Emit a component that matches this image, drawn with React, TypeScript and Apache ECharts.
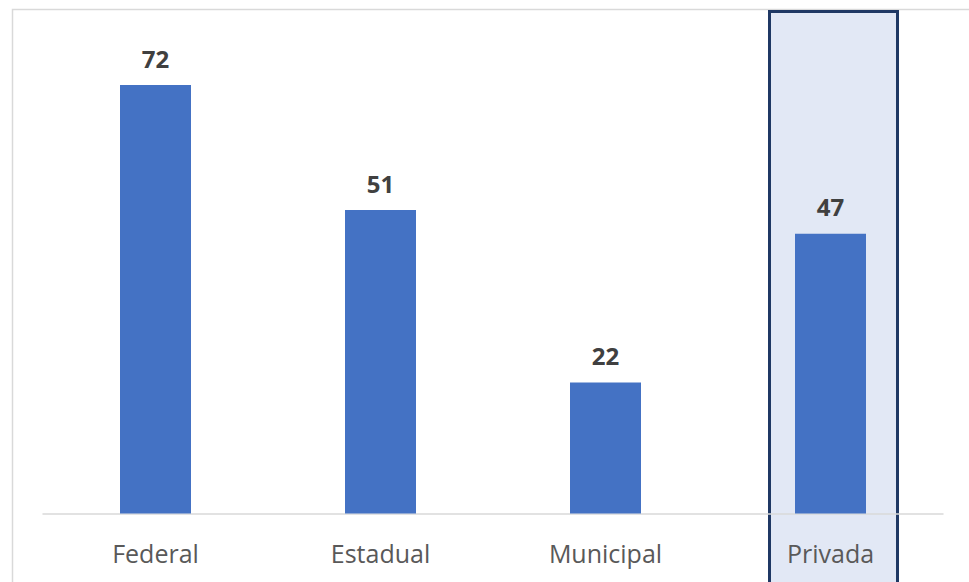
import React, { useEffect, useRef } from "react";
import * as echarts from "echarts";

const categories = ["Federal", "Estadual", "Municipal", "Privada"];
const values = [72, 51, 22, 47];
const highlightCategory = "Privada";

export default function App() {
  const ref = useRef<HTMLDivElement>(null);
  useEffect(() => {
    if (!ref.current) return;
    const chart = echarts.init(ref.current, undefined, { renderer: "svg" });
    chart.setOption({
      animation: false,
      backgroundColor: "#ffffff",
      grid: { left: 43, right: 26, top: 37.5, bottom: 68.5 },
      xAxis: {
        type: "category",
        data: categories,
        axisTick: { show: false },
        axisLine: { lineStyle: { color: "#D9D9D9", width: 1.5 } },
        axisLabel: {
          color: "#595959",
          fontFamily: "Open Sans",
          fontSize: 25,
          margin: 27,
        },
      },
      yAxis: {
        type: "value",
        min: 0,
        max: 80,
        show: false,
        splitLine: { show: false },
      },
      series: [
        {
          type: "bar",
          data: values,
          barWidth: 71,
          itemStyle: { color: "#4472C4" },
          z: 3,
          label: {
            show: true,
            position: "top",
            distance: 15,
            color: "#404040",
            fontFamily: "Open Sans",
            fontWeight: "bold",
            fontSize: 24,
          },
        },
      ],
    });
    const cx = chart.convertToPixel({ xAxisIndex: 0 }, highlightCategory) as number;
    chart.setOption({
      graphic: [
        {
          type: "rect",
          z: -10,
          silent: true,
          shape: { x: 12.5, y: 9.5, width: 1000, height: 600 },
          style: { fill: "none", stroke: "#D9D9D9", lineWidth: 1.5 },
        },
        {
          type: "rect",
          z: -5,
          silent: true,
          shape: { x: cx + 3 - 64, y: 11.5, width: 128, height: 600 },
          style: { fill: "#E2E8F5", stroke: "#1F3864", lineWidth: 3 },
        },
      ],
    });
    return () => chart.dispose();
  }, []);
  return (
    <div
      ref={ref}
      style={{ position: "fixed", left: 0, top: 0, width: 969, height: 582 }}
    />
  );
}
